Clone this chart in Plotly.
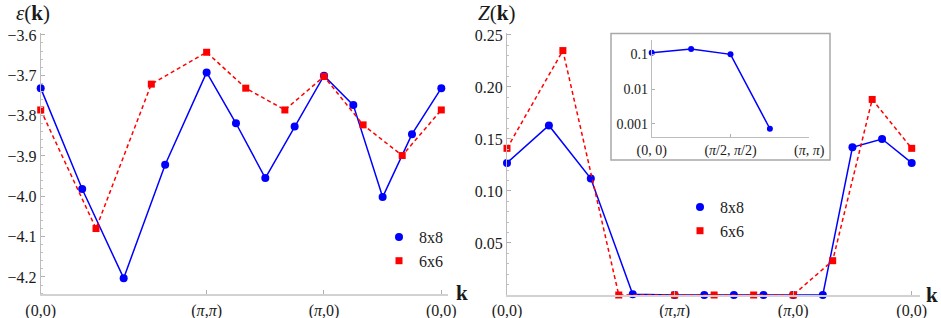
import numpy as np
import plotly.graph_objects as go

# k-points along the path (units of pi)
k_8x8 = [(0, 0), (1/4, 1/4), (1/2, 1/2), (3/4, 3/4), (1, 1), (1, 3/4), (1, 1/2), (1, 1/4),
         (1, 0), (3/4, 0), (1/2, 0), (1/4, 0), (0, 0)]
k_6x6 = [(0, 0), (1/3, 1/3), (2/3, 2/3), (1, 1), (1, 2/3), (1, 1/3), (1, 0), (2/3, 0), (1/3, 0), (0, 0)]

eps_8x8 = [-3.732, -3.982, -4.203, -3.922, -3.693, -3.819, -3.955, -3.827, -3.701, -3.774, -4.002, -3.846, -3.732]
eps_6x6 = [-3.786, -4.080, -3.722, -3.643, -3.732, -3.786, -3.703, -3.823, -3.899, -3.786]

Z_8x8 = [0.127, 0.163, 0.112, 0.0007, 0.0, 0.0, 0.0, 0.0, 0.0, 0.0, 0.142, 0.150, 0.127]
Z_6x6 = [0.141, 0.235, 0.0, 0.0, 0.0, 0.0, 0.0, 0.033, 0.188, 0.141]

inset_k = [(0, 0), (1/4, 1/4), (1/2, 1/2), (3/4, 3/4)]
inset_Z = [0.111, 0.142, 0.100, 0.00073]

tick_k = [(0, 0), (1, 1), (1, 0), (0, 0)]
tick_labels = ["(0,0)", "(<i>π</i>,<i>π</i>)", "(<i>π</i>,0)", "(0,0)"]
inset_tick_k = [(0, 0), (1/2, 1/2), (1, 1)]
inset_tick_labels = ["(0, 0)", "(<i>π</i>/2, <i>π</i>/2)", "(<i>π</i>, <i>π</i>)"]
eps_ticks = [-4.2, -4.1, -4.0, -3.9, -3.8, -3.7, -3.6]
Z_ticks = [0.05, 0.10, 0.15, 0.20, 0.25]
inset_ticks = [0.001, 0.01, 0.1]
inset_tick_text = ["0.001", "0.01", "0.1"]


def path_len(pts):
    p = np.array(pts, dtype=float)
    d = np.sqrt(((p[1:] - p[:-1]) ** 2).sum(axis=1))
    return np.concatenate([[0.0], np.cumsum(d)])


x8 = path_len(k_8x8)
x6 = path_len(k_6x6)
xt = path_len(tick_k)
xi = path_len(inset_k)
xit = path_len(inset_tick_k)

BLUE = "#0000ff"
RED = "#ff0000"
FONT = "Liberation Serif"
TXT = "#1a1a1a"
W, H = 941, 318
DASH = "4px,3px"


def px(v):
    return v / W


def py(v):
    return 1 - v / H


fig = go.Figure()

# left panel
fig.add_trace(go.Scatter(x=x8, y=eps_8x8, mode="lines+markers", line=dict(color=BLUE, width=1.5),
                         marker=dict(color=BLUE, size=8, symbol="circle"), showlegend=False,
                         xaxis="x", yaxis="y", cliponaxis=False))
fig.add_trace(go.Scatter(x=x6, y=eps_6x6, mode="lines+markers", line=dict(color=RED, width=1.5, dash=DASH),
                         marker=dict(color=RED, size=7, symbol="square"), showlegend=False,
                         xaxis="x", yaxis="y", cliponaxis=False))
# right panel
fig.add_trace(go.Scatter(x=x8, y=Z_8x8, mode="lines+markers", line=dict(color=BLUE, width=1.5),
                         marker=dict(color=BLUE, size=8, symbol="circle"), showlegend=False,
                         xaxis="x2", yaxis="y2", cliponaxis=False))
fig.add_trace(go.Scatter(x=x6, y=Z_6x6, mode="lines+markers", line=dict(color=RED, width=1.5, dash=DASH),
                         marker=dict(color=RED, size=7, symbol="square"), showlegend=False,
                         xaxis="x2", yaxis="y2", cliponaxis=False))
# inset
fig.add_trace(go.Scatter(x=xi, y=inset_Z, mode="lines+markers", line=dict(color=BLUE, width=1.5),
                         marker=dict(color=BLUE, size=6, symbol="circle"), showlegend=False,
                         xaxis="x3", yaxis="y3", cliponaxis=False))

# legend entries
for lg in ["legend", "legend2"]:
    fig.add_trace(go.Scatter(x=[None], y=[None], mode="markers", name="8x8",
                             marker=dict(color=BLUE, size=8, symbol="circle"), legend=lg))
    fig.add_trace(go.Scatter(x=[None], y=[None], mode="markers", name="6x6",
                             marker=dict(color=RED, size=7, symbol="square"), legend=lg))

tickfont = dict(family=FONT, size=16, color=TXT)
insetfont = dict(family=FONT, size=14, color=TXT)
axcol = "#bdbdbd"

common_x = dict(showgrid=False, zeroline=False, showline=True, linecolor="#d2d2d2", linewidth=2,
                ticks="inside", ticklen=4, tickcolor="#b0b0b0", tickmode="array", automargin=False,
                tickvals=list(xt), ticktext=tick_labels, tickfont=tickfont)
common_y = dict(showgrid=False, zeroline=False, showline=True, linecolor=axcol, linewidth=1,
                ticks="inside", ticklen=4, tickcolor="#b0b0b0", tickmode="array", automargin=False,
                tickfont=tickfont)

fig.update_layout(
    width=W, height=H, margin=dict(l=0, r=0, t=0, b=0),
    paper_bgcolor="white", plot_bgcolor="rgba(0,0,0,0)",
    xaxis=dict(domain=[px(40.7), px(448)], range=[0, xt[-1] + 0.057], anchor="y", **common_x),
    yaxis=dict(domain=[py(294.3), py(33.3)], range=[-4.243, -3.596], anchor="x",
               tickvals=eps_ticks, tickformat=".1f",
               minor=dict(ticks="inside", ticklen=2, tickcolor="#c0c0c0", dtick=0.02, tick0=-4.2), **common_y),
    xaxis2=dict(domain=[px(507), px(920)], range=[0, xt[-1] + 0.07], anchor="y2", **common_x),
    yaxis2=dict(domain=[py(295), py(33.3)], range=[0, 0.2516], anchor="x2",
                tickvals=Z_ticks, tickformat=".2f",
                minor=dict(ticks="inside", ticklen=2, tickcolor="#c0c0c0", dtick=0.01, tick0=0), **common_y),
    xaxis3=dict(domain=[px(651.7), px(809.3)], range=[0, xit[-1]], anchor="y3", automargin=False,
                showgrid=False, zeroline=False, showline=True, linecolor=axcol, linewidth=1,
                ticks="inside", ticklen=3, tickcolor="#b0b0b0", tickmode="array",
                tickvals=list(xit), ticktext=inset_tick_labels, tickfont=insetfont),
    yaxis3=dict(domain=[py(136.7), py(40)], type="log", range=[-3.365, -0.589], anchor="x3", automargin=False,
                showgrid=False, zeroline=False, showline=True, linecolor=axcol, linewidth=1,
                ticks="inside", ticklen=3, tickcolor="#b0b0b0", tickmode="array",
                tickvals=inset_ticks, ticktext=inset_tick_text, tickfont=insetfont),
    legend=dict(x=px(379), y=py(220), xanchor="left", yanchor="top", bgcolor="rgba(0,0,0,0)",
                font=dict(family=FONT, size=16, color=TXT), itemwidth=30, tracegroupgap=0),
    legend2=dict(x=px(680), y=py(190), xanchor="left", yanchor="top", bgcolor="rgba(0,0,0,0)",
                 font=dict(family=FONT, size=16, color=TXT), itemwidth=30, tracegroupgap=0),
    shapes=[dict(type="rect", xref="paper", yref="paper", x0=px(611), x1=px(830), y0=py(160), y1=py(33.5),
                 line=dict(color="#a8a8a8", width=1.5), fillcolor="rgba(0,0,0,0)", layer="below")],
    annotations=[
        dict(text="<i>ε</i>(<b>k</b>)", x=px(14), y=py(13), xref="paper", yref="paper",
             xanchor="left", yanchor="middle", showarrow=False, font=dict(family=FONT, size=21, color=TXT)),
        dict(text="<i>Z</i>(<b>k</b>)", x=px(476), y=py(13), xref="paper", yref="paper",
             xanchor="left", yanchor="middle", showarrow=False, font=dict(family=FONT, size=21, color=TXT)),
        dict(text="<b>k</b>", x=px(462), y=py(293), xref="paper", yref="paper",
             xanchor="center", yanchor="middle", showarrow=False, font=dict(family=FONT, size=21, color=TXT)),
        dict(text="<b>k</b>", x=px(932), y=py(295), xref="paper", yref="paper",
             xanchor="center", yanchor="middle", showarrow=False, font=dict(family=FONT, size=21, color=TXT)),
    ],
)

fig.write_html("out.html", config={"displayModeBar": False},
               post_script="document.body.style.margin='0';")
